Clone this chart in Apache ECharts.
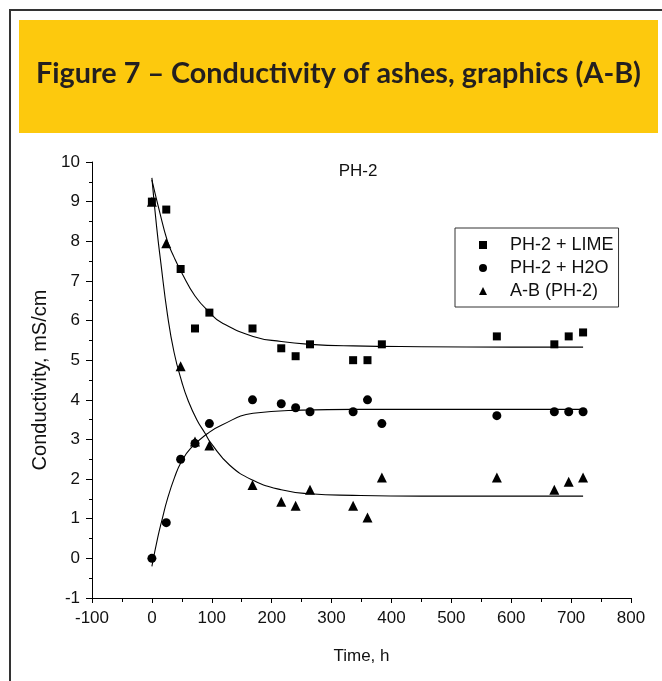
<!DOCTYPE html>
<html><head><meta charset="utf-8">
<script src="https://cdn.jsdelivr.net/npm/echarts@6/dist/echarts.min.js"></script>
<style>html,body{margin:0;padding:0;background:#fff}#c{width:662px;height:681px}</style>
</head><body><div id="c"></div>
<script>
const titleText = 'Figure 7 \u2013 Conductivity of ashes, graphics (A-B)';
const panelLabel = 'PH-2';
const xName = 'Time, h';
const yName = 'Conductivity, mS/cm';
const seriesNames = ['PH-2 + LIME', 'PH-2 + H2O', 'A-B (PH-2)'];

// measured points (time in hours)
const timeH   = [0, 24, 48, 72, 96, 168, 216, 240, 264, 336, 360, 384, 576, 672, 696, 720];
const limeVals = [9.0, 8.8, 7.3, 5.8, 6.2, 5.8, 5.3, 5.1, 5.4, 5.0, 5.0, 5.4, 5.6, 5.4, 5.6, 5.7];
const h2oVals  = [0.0, 0.9, 2.5, 2.9, 3.4, 4.0, 3.9, 3.8, 3.7, 3.7, 4.0, 3.4, 3.6, 3.7, 3.7, 3.7];
const abVals   = [9.0, 7.95, 4.85, 2.95, 2.85, 1.85, 1.43, 1.33, 1.73, 1.33, 1.03, 2.04, 2.04, 1.73, 1.93, 2.04];

// fitted curves
const fitLimeT = [0, 12, 26, 37, 50, 72, 98, 116, 169, 216, 264, 336, 450, 600, 720];
const fitLimeV = [9.55, 8.8, 8.0, 7.6, 7.2, 6.62, 6.18, 5.95, 5.6, 5.47, 5.4, 5.36, 5.34, 5.33, 5.33];
const fitH2oT  = [0, 10, 17, 26, 38, 49, 65, 93, 116, 169, 250, 336, 450, 600, 720];
const fitH2oV  = [-0.2, 0.54, 0.98, 1.5, 2.05, 2.43, 2.78, 3.15, 3.36, 3.66, 3.74, 3.76, 3.76, 3.76, 3.76];
const fitAbT   = [0, 8, 15, 26, 37, 50, 60, 75, 89, 99, 130, 169, 216, 264, 336, 450, 600, 720];
const fitAbV   = [9.6, 8.35, 7.45, 6.15, 5.2, 4.45, 4.0, 3.5, 3.15, 2.9, 2.35, 1.97, 1.73, 1.63, 1.59, 1.57, 1.57, 1.57];

const zip = (a, b) => a.map((v, i) => [v, b[i]]);

// title horizontal fit
const titleFont = 'bold 28px Lato';
const cv = document.createElement('canvas').getContext('2d');
cv.font = titleFont;
const tw = cv.measureText(titleText).width || 605;
const titleScale = 605 / tw;

const AX = 'Liberation Sans';
const axisCommon = {
  type: 'value',
  nameLocation: 'middle',
  nameTextStyle: { fontSize: 17, fontFamily: AX, color: '#111' },
  axisLine: { onZero: false, lineStyle: { color: '#000', width: 1 } },
  axisTick: { show: true, inside: false, length: 5, lineStyle: { color: '#000' } },
  minorTick: { show: true, splitNumber: 2, length: 4, lineStyle: { color: '#000' } },
  axisLabel: { fontSize: 17, fontFamily: AX, color: '#111', margin: 12 },
  splitLine: { show: false }
};

const chart = echarts.init(document.getElementById('c'), null, { renderer: 'canvas' });
const fitLine = (d) => ({
  type: 'line', data: d, showSymbol: false, smooth: 0.5,
  lineStyle: { color: '#000', width: 1.1 }, silent: true, z: 2, legendHoverLink: false
});
const scat = (name, d, sym, size) => ({
  name, type: 'scatter', data: d, symbol: sym, symbolSize: size,
  itemStyle: { color: '#000', opacity: 1 }, z: 3
});

chart.setOption({
  animation: false,
  graphic: [
    { type: 'rect', shape: { x: 10, y: 10, width: 700, height: 700 },
      style: { fill: 'none', stroke: '#333', lineWidth: 2 }, silent: true },
    { type: 'rect', shape: { x: 19, y: 20, width: 639, height: 113 },
      style: { fill: '#FDC90D' }, silent: true },
    { type: 'text', x: 338.5, y: 74, scaleX: titleScale,
      style: { text: titleText, font: titleFont, fill: '#231F20', align: 'center', verticalAlign: 'middle' } },
    { type: 'text', x: 358, y: 171,
      style: { text: panelLabel, font: '17px "Liberation Sans"', fill: '#111', align: 'center', verticalAlign: 'middle' } }
  ],
  grid: { left: 92, right: 31, top: 162, bottom: 83, containLabel: false },
  xAxis: Object.assign({}, axisCommon, { min: -100, max: 800, interval: 100, name: xName, nameGap: 50 }),
  yAxis: Object.assign({}, axisCommon, {
    min: -1, max: 10, interval: 1, name: yName, nameGap: 42,
    nameTextStyle: { fontSize: 20, fontFamily: AX, color: '#111' },
    axisTick: { show: true, inside: false, length: 6, lineStyle: { color: '#000' } },
    minorTick: { show: true, splitNumber: 2, length: 3, lineStyle: { color: '#000' } }
  }),
  legend: {
    orient: 'vertical', left: 455, top: 228,
    padding: [8, 5, 7, 24], itemWidth: 8, itemHeight: 8, itemGap: 5,
    borderColor: '#333', borderWidth: 1, selectedMode: false,
    data: [
      { name: seriesNames[0], icon: 'rect', itemStyle: { color: '#000', opacity: 1 } },
      { name: seriesNames[1], icon: 'circle', itemStyle: { color: '#000', opacity: 1 } },
      { name: seriesNames[2], icon: 'triangle', itemStyle: { color: '#000', opacity: 1 } }
    ],
    textStyle: { fontSize: 18, fontFamily: AX, color: '#111', lineHeight: 18, padding: [0, 0, 0, 18] }
  },
  series: [
    fitLine(zip(fitLimeT, fitLimeV)),
    fitLine(zip(fitH2oT, fitH2oV)),
    fitLine(zip(fitAbT, fitAbV)),
    scat(seriesNames[0], zip(timeH, limeVals), 'rect', 8),
    scat(seriesNames[1], zip(timeH, h2oVals), 'circle', 9),
    scat(seriesNames[2], zip(timeH, abVals), 'triangle', 10)
  ]
});
</script>
</body></html>
